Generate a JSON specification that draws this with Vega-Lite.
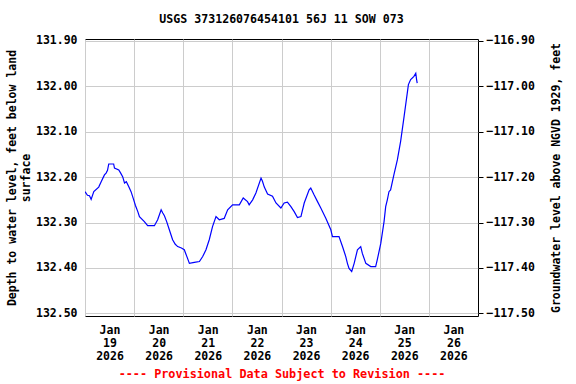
{
  "$schema": "https://vega.github.io/schema/vega-lite/v6.json",
  "autosize": {"type": "none"},
  "padding": {"left": 85, "top": 39, "right": 98, "bottom": 68},
  "width": 393,
  "height": 277,
  "background": "white",
  "title": {
    "text": "USGS 373126076454101 56J 11 SOW 073",
    "anchor": "middle",
    "frame": "group",
    "font": "DejaVu Sans Mono",
    "fontSize": 11.6,
    "fontWeight": "bold",
    "color": "black",
    "offset": 9
  },
  "config": {
    "view": {"stroke": "black", "strokeWidth": 1},
    "axis": {
      "labelFont": "DejaVu Sans Mono",
      "labelFontSize": 11.5,
      "labelFontWeight": "bold",
      "labelColor": "black",
      "titleFont": "DejaVu Sans Mono",
      "titleFontSize": 11.5,
      "titleFontWeight": "bold",
      "titleColor": "black",
      "gridColor": "#cccccc",
      "gridOpacity": 1,
      "gridWidth": 1
    }
  },
  "data": {
    "values": [
      {"t": "2026-01-19T00:00", "d": 132.232},
      {"t": "2026-01-19T01:12", "d": 132.240},
      {"t": "2026-01-19T02:12", "d": 132.241},
      {"t": "2026-01-19T03:00", "d": 132.249},
      {"t": "2026-01-19T04:18", "d": 132.232},
      {"t": "2026-01-19T06:42", "d": 132.222},
      {"t": "2026-01-19T07:54", "d": 132.210},
      {"t": "2026-01-19T09:30", "d": 132.195},
      {"t": "2026-01-19T10:18", "d": 132.191},
      {"t": "2026-01-19T11:00", "d": 132.185},
      {"t": "2026-01-19T11:36", "d": 132.171},
      {"t": "2026-01-19T14:00", "d": 132.171},
      {"t": "2026-01-19T14:24", "d": 132.180},
      {"t": "2026-01-19T16:30", "d": 132.184},
      {"t": "2026-01-19T17:18", "d": 132.190},
      {"t": "2026-01-19T18:24", "d": 132.199},
      {"t": "2026-01-19T19:18", "d": 132.213},
      {"t": "2026-01-19T20:12", "d": 132.210},
      {"t": "2026-01-19T21:24", "d": 132.221},
      {"t": "2026-01-19T22:30", "d": 132.232},
      {"t": "2026-01-19T23:48", "d": 132.250},
      {"t": "2026-01-20T00:36", "d": 132.262},
      {"t": "2026-01-20T01:48", "d": 132.276},
      {"t": "2026-01-20T02:36", "d": 132.287},
      {"t": "2026-01-20T05:00", "d": 132.298},
      {"t": "2026-01-20T06:36", "d": 132.307},
      {"t": "2026-01-20T09:54", "d": 132.307},
      {"t": "2026-01-20T11:30", "d": 132.294},
      {"t": "2026-01-20T13:12", "d": 132.272},
      {"t": "2026-01-20T14:00", "d": 132.279},
      {"t": "2026-01-20T14:48", "d": 132.285},
      {"t": "2026-01-20T15:54", "d": 132.298},
      {"t": "2026-01-20T17:12", "d": 132.316},
      {"t": "2026-01-20T18:48", "d": 132.338},
      {"t": "2026-01-20T20:06", "d": 132.348},
      {"t": "2026-01-20T21:18", "d": 132.353},
      {"t": "2026-01-20T23:06", "d": 132.356},
      {"t": "2026-01-21T00:30", "d": 132.360},
      {"t": "2026-01-21T02:06", "d": 132.379},
      {"t": "2026-01-21T03:00", "d": 132.390},
      {"t": "2026-01-21T05:24", "d": 132.388},
      {"t": "2026-01-21T07:54", "d": 132.386},
      {"t": "2026-01-21T09:30", "d": 132.375},
      {"t": "2026-01-21T11:06", "d": 132.360},
      {"t": "2026-01-21T12:42", "d": 132.338},
      {"t": "2026-01-21T14:18", "d": 132.309},
      {"t": "2026-01-21T16:00", "d": 132.287},
      {"t": "2026-01-21T17:36", "d": 132.294},
      {"t": "2026-01-21T20:00", "d": 132.291},
      {"t": "2026-01-21T21:42", "d": 132.272},
      {"t": "2026-01-22T00:06", "d": 132.261},
      {"t": "2026-01-22T03:24", "d": 132.261},
      {"t": "2026-01-22T05:18", "d": 132.246},
      {"t": "2026-01-22T07:24", "d": 132.254},
      {"t": "2026-01-22T08:12", "d": 132.261},
      {"t": "2026-01-22T09:54", "d": 132.250},
      {"t": "2026-01-22T11:30", "d": 132.235},
      {"t": "2026-01-22T14:00", "d": 132.202},
      {"t": "2026-01-22T14:42", "d": 132.209},
      {"t": "2026-01-22T15:36", "d": 132.222},
      {"t": "2026-01-22T17:12", "d": 132.237},
      {"t": "2026-01-22T19:36", "d": 132.242},
      {"t": "2026-01-22T21:18", "d": 132.257},
      {"t": "2026-01-22T23:42", "d": 132.268},
      {"t": "2026-01-23T01:18", "d": 132.257},
      {"t": "2026-01-23T02:54", "d": 132.255},
      {"t": "2026-01-23T04:36", "d": 132.265},
      {"t": "2026-01-23T06:12", "d": 132.276},
      {"t": "2026-01-23T07:48", "d": 132.289},
      {"t": "2026-01-23T09:30", "d": 132.287},
      {"t": "2026-01-23T11:06", "d": 132.257},
      {"t": "2026-01-23T13:30", "d": 132.228},
      {"t": "2026-01-23T14:18", "d": 132.224},
      {"t": "2026-01-23T15:54", "d": 132.239},
      {"t": "2026-01-23T17:36", "d": 132.254},
      {"t": "2026-01-23T19:12", "d": 132.268},
      {"t": "2026-01-23T21:42", "d": 132.291},
      {"t": "2026-01-24T00:06", "d": 132.316},
      {"t": "2026-01-24T00:54", "d": 132.331},
      {"t": "2026-01-24T04:06", "d": 132.331},
      {"t": "2026-01-24T05:48", "d": 132.353},
      {"t": "2026-01-24T07:24", "d": 132.375},
      {"t": "2026-01-24T08:12", "d": 132.390},
      {"t": "2026-01-24T09:00", "d": 132.401},
      {"t": "2026-01-24T10:18", "d": 132.408},
      {"t": "2026-01-24T11:30", "d": 132.390},
      {"t": "2026-01-24T13:06", "d": 132.360},
      {"t": "2026-01-24T14:42", "d": 132.353},
      {"t": "2026-01-24T15:30", "d": 132.368},
      {"t": "2026-01-24T17:12", "d": 132.390},
      {"t": "2026-01-24T19:36", "d": 132.397},
      {"t": "2026-01-24T22:00", "d": 132.397},
      {"t": "2026-01-24T22:48", "d": 132.382},
      {"t": "2026-01-25T00:30", "d": 132.346},
      {"t": "2026-01-25T02:06", "d": 132.298},
      {"t": "2026-01-25T02:54", "d": 132.265},
      {"t": "2026-01-25T03:42", "d": 132.250},
      {"t": "2026-01-25T04:30", "d": 132.232},
      {"t": "2026-01-25T05:18", "d": 132.228},
      {"t": "2026-01-25T06:54", "d": 132.195},
      {"t": "2026-01-25T08:36", "d": 132.162},
      {"t": "2026-01-25T10:12", "d": 132.121},
      {"t": "2026-01-25T11:54", "d": 132.066},
      {"t": "2026-01-25T14:00", "d": 131.996},
      {"t": "2026-01-25T15:06", "d": 131.985},
      {"t": "2026-01-25T16:42", "d": 131.978},
      {"t": "2026-01-25T17:36", "d": 131.971},
      {"t": "2026-01-25T18:00", "d": 131.985},
      {"t": "2026-01-25T18:18", "d": 131.993}
    ]
  },
  "encoding": {
    "x": {
      "field": "t",
      "type": "temporal",
      "scale": {
        "domain": [
          {"year": 2026, "month": 1, "date": 19},
          {"year": 2026, "month": 1, "date": 27}
        ],
        "nice": false
      },
      "axis": {
        "values": [
          {"year": 2026, "month": 1, "date": 19},
          {"year": 2026, "month": 1, "date": 20},
          {"year": 2026, "month": 1, "date": 21},
          {"year": 2026, "month": 1, "date": 22},
          {"year": 2026, "month": 1, "date": 23},
          {"year": 2026, "month": 1, "date": 24},
          {"year": 2026, "month": 1, "date": 25},
          {"year": 2026, "month": 1, "date": 26}
        ],
        "labelExpr": "[timeFormat(datum.value, '%b'), timeFormat(datum.value, '%d'), timeFormat(datum.value, '%Y')]",
        "labelOffset": 24.5,
        "labelFlush": false,
        "labelOverlap": false,
        "labelBound": false,
        "labelAlign": "center",
        "labelPadding": 8,
        "labelLineHeight": 13,
        "ticks": false,
        "domain": false,
        "grid": true,
        "title": "---- Provisional Data Subject to Revision ----",
        "titleColor": "#ff0000",
        "titleFontSize": 11.8,
        "titlePadding": 7
      }
    },
    "y": {
      "field": "d",
      "type": "quantitative",
      "scale": {"domain": [131.8956, 132.506], "reverse": true, "zero": false, "nice": false}
    }
  },
  "layer": [
    {
      "mark": {"type": "line", "color": "#0000ff", "strokeWidth": 1.2, "clip": true},
      "encoding": {
        "y": {
          "field": "d",
          "type": "quantitative",
          "axis": {
            "values": [131.9, 132.0, 132.1, 132.2, 132.3, 132.4, 132.5],
            "format": ".2f",
            "ticks": false,
            "domain": false,
            "grid": true,
            "labelPadding": 8,
            "title": ["Depth to water level, feet below land", "surface"],
            "titlePadding": 4
          }
        }
      }
    },
    {
      "mark": {"type": "line", "strokeOpacity": 0, "clip": true},
      "encoding": {
        "y": {
          "field": "d",
          "type": "quantitative",
          "axis": {
            "orient": "right",
            "values": [131.9, 132.0, 132.1, 132.2, 132.3, 132.4, 132.5],
            "labelExpr": "format(15 - datum.value, '.2f')",
            "ticks": true,
            "tickSize": 5,
            "tickColor": "black",
            "domain": false,
            "grid": false,
            "labelPadding": 3,
            "title": "Groundwater level above NGVD 1929, feet",
            "titleAngle": -90,
            "titlePadding": 27
          }
        }
      }
    }
  ],
  "resolve": {"axis": {"y": "independent"}}
}
